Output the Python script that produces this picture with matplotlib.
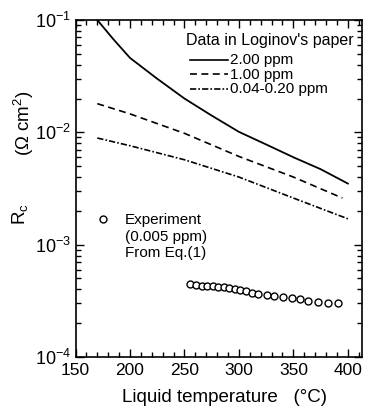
import matplotlib
matplotlib.use("Agg")
import matplotlib.pyplot as plt
import numpy as np
from matplotlib.ticker import MultipleLocator, LogLocator, NullFormatter
from matplotlib.lines import Line2D

plt.rcParams['font.family'] = ['Liberation Sans', 'DejaVu Sans']
plt.rcParams['mathtext.fontset'] = 'custom'
plt.rcParams['mathtext.rm'] = 'Liberation Sans'
plt.rcParams['mathtext.it'] = 'Liberation Sans:italic'
plt.rcParams['lines.scale_dashes'] = False

# Loginov's data
t_200 = [170, 185, 200, 225, 250, 275, 300, 325, 350, 375, 400]
rc_200 = [0.100, 0.067, 0.046, 0.030, 0.020, 0.0141, 0.0101, 0.0078, 0.0060, 0.0047, 0.0035]

t_100 = [170, 200, 250, 300, 350, 395]
rc_100 = [0.018, 0.0146, 0.0098, 0.0061, 0.0040, 0.0026]

t_004 = [170, 200, 250, 300, 350, 400]
rc_004 = [0.0089, 0.0076, 0.0057, 0.0040, 0.0026, 0.0017]

# experiment, 0.005 ppm, from Eq.(1)
t_exp = [255, 261, 265.8, 270.4, 275.8, 281, 286.2, 291, 296.3, 301, 306.4,
         311.6, 317.7, 325.4, 332, 340.6, 348.3, 356, 363.6, 372.8, 382, 391]
rc_exp = [4.49e-4, 4.34e-4, 4.30e-4, 4.30e-4, 4.27e-4, 4.24e-4, 4.18e-4, 4.13e-4,
          4.07e-4, 3.96e-4, 3.88e-4, 3.75e-4, 3.65e-4, 3.58e-4, 3.51e-4, 3.41e-4,
          3.34e-4, 3.27e-4, 3.18e-4, 3.10e-4, 3.05e-4, 3.01e-4]

W, H = 369, 415
fig = plt.figure(figsize=(W/100, H/100), dpi=100)
L, R, T, B = 75.5, 362, 20, 357
ax = fig.add_axes([L/W, 1-B/H, (R-L)/W, (B-T)/H])

ax.plot(t_200, rc_200, color='black', lw=1.3)
ax.plot(t_100, rc_100, color='black', lw=1.2, dashes=(5, 3.2))
ax.plot(t_004, rc_004, color='black', lw=1.2, dashes=(4.5, 1.5, 1.2, 1.5))
ax.plot(t_exp, rc_exp, 'o', mfc='white', mec='black', ms=5, mew=1.0)

ax.set_yscale('log')
ax.set_ylim(1e-4, 1e-1)
ax.set_xlim(150, 413)
ax.xaxis.set_major_locator(MultipleLocator(50))
ax.xaxis.set_minor_locator(MultipleLocator(10))
ax.yaxis.set_major_locator(LogLocator(base=10))
ax.yaxis.set_minor_locator(LogLocator(base=10, subs=np.arange(2, 10)))
ax.yaxis.set_minor_formatter(NullFormatter())

ax.tick_params(which='both', direction='in', top=True, right=True, width=1.0)
ax.tick_params(axis='y', labelsize=13)
ax.tick_params(axis='x', labelsize=12.5)
ax.tick_params(which='major', length=6, pad=3)
ax.tick_params(which='minor', length=3.5)
ax.tick_params(axis='x', which='major', pad=4)
for s in ax.spines.values():
    s.set_linewidth(1.2)

ax.set_xlabel("Liquid temperature   (\u00b0C)", fontsize=13.5)
ax.xaxis.set_label_coords((225-L)/(R-L), -(397-B)/(B-T), transform=ax.transAxes)
ax.xaxis.label.set_va('center')
fig.text(20/W, 1-214/H, r"R$_\mathregular{c}$", rotation=90, ha='center', va='center', fontsize=13.5)
fig.text(24/W, 1-123/H, "(\u03a9 cm$^\\mathregular{2}$)", rotation=90, ha='center', va='center', fontsize=13.5)


def axp(px, py):
    # pixel position -> axes fraction
    return (px-L)/(R-L), (B-py)/(B-T)


# legend for Loginov's curves, drawn by hand
fs = 11
ax.text(*axp(186, 40), "Data in Loginov's paper", transform=ax.transAxes, fontsize=11.5, va='center')
entries = [("2.00 ppm", 60, {}), ("1.00 ppm", 74.5, {'dashes': (5, 3.2)}),
           ("0.04-0.20 ppm", 89, {'dashes': (4.5, 1.5, 1.2, 1.5)})]
for lab, py, st in entries:
    x0, y0 = axp(190, py)
    x1, _ = axp(228, py)
    ax.add_line(Line2D([x0, x1], [y0, y0], transform=ax.transAxes, color='black', lw=1.2, **st))
    ax.text(*axp(230, py), lab, transform=ax.transAxes, fontsize=fs, va='center')

# experiment legend
mx, my = axp(103, 219)
ax.add_line(Line2D([mx], [my], transform=ax.transAxes, marker='o', mfc='white',
                   mec='black', ms=5, mew=1.0, ls='none'))
for lab, py in [("Experiment", 220), ("(0.005 ppm)", 236.5), ("From Eq.(1)", 253)]:
    ax.text(*axp(125, py), lab, transform=ax.transAxes, fontsize=fs, va='center')

fig.savefig("out.png", dpi=100)
